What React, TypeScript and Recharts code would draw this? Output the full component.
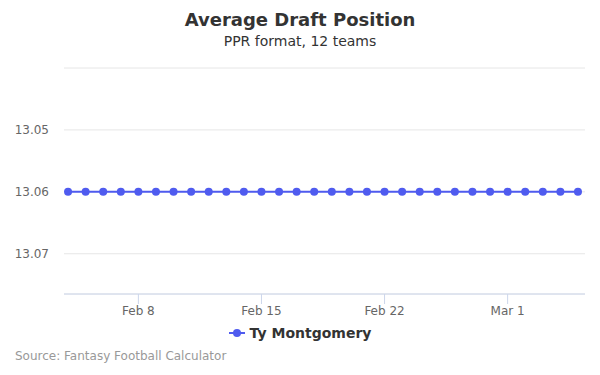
import { LineChart, Line, XAxis, YAxis, CartesianGrid, Legend } from "recharts";

const days = [
  "Feb 4", "Feb 5", "Feb 6", "Feb 7", "Feb 8", "Feb 9", "Feb 10", "Feb 11", "Feb 12", "Feb 13",
  "Feb 14", "Feb 15", "Feb 16", "Feb 17", "Feb 18", "Feb 19", "Feb 20", "Feb 21", "Feb 22", "Feb 23",
  "Feb 24", "Feb 25", "Feb 26", "Feb 27", "Feb 28", "Mar 1", "Mar 2", "Mar 3", "Mar 4", "Mar 5",
];
const adp = [
  13.06, 13.06, 13.06, 13.06, 13.06, 13.06, 13.06, 13.06, 13.06, 13.06,
  13.06, 13.06, 13.06, 13.06, 13.06, 13.06, 13.06, 13.06, 13.06, 13.06,
  13.06, 13.06, 13.06, 13.06, 13.06, 13.06, 13.06, 13.06, 13.06, 13.06,
];
const xTickLabels = ["Feb 8", "Feb 15", "Feb 22", "Mar 1"];
const yTicks = [13.04, 13.05, 13.06, 13.07];
const seriesName = "Ty Montgomery";

const data = days.map((d, i) => ({ x: i, label: d, adp: adp[i] }));
const xTicks = xTickLabels.map((l) => days.indexOf(l));

const FONT = "'DejaVu Sans', sans-serif";
const BLUE = "#4f5bef";

const LegendContent = () => (
  <div style={{ display: "flex", justifyContent: "center", alignItems: "center", fontFamily: FONT }}>
    <svg width={16} height={12} style={{ marginRight: 5 }}>
      <line x1={0} y1={6} x2={16} y2={6} stroke={BLUE} strokeWidth={2} />
      <circle cx={8} cy={6} r={4} fill={BLUE} />
    </svg>
    <span style={{ fontSize: 14, fontWeight: "bold", color: "#333" }}>{seriesName}</span>
  </div>
);

export default function App() {
  return (
    <div style={{ position: "absolute", left: 0, top: 0, width: 600, height: 375, fontFamily: FONT }}>
      <div style={{ position: "absolute", top: 9, width: 600, textAlign: "center", fontSize: 18, fontWeight: "bold", color: "#333" }}>
        Average Draft Position
      </div>
      <div style={{ position: "absolute", top: 33, width: 600, textAlign: "center", fontSize: 14, color: "#333" }}>
        PPR format, 12 teams
      </div>
      <LineChart width={600} height={375} data={data} margin={{ top: 68, right: 15, left: 0, bottom: 51 }}>
        <CartesianGrid horizontal vertical={false} stroke="#e6e6e6" />
        <XAxis
          dataKey="x"
          type="number"
          domain={[-0.23, 29.4]}
          ticks={xTicks}
          tickFormatter={(v) => days[v]}
          tickSize={10}
          stroke="#ccd6eb"
          tick={{ fill: "#666", fontSize: 12, fontFamily: FONT }}
          allowDataOverflow
        />
        <YAxis
          width={64}
          reversed
          domain={[13.04, 13.0765]}
          ticks={yTicks}
          allowDataOverflow
          axisLine={false}
          tickLine={false}
          tickMargin={9}
          tickFormatter={(v) => (v === 13.04 ? "" : v.toFixed(2))}
          tick={{ fill: "#666", fontSize: 12, fontFamily: FONT }}
        />
        <Legend
          verticalAlign="middle"
          align="center"
          content={<LegendContent />}
          wrapperStyle={{ position: "absolute", top: 325, left: 0, width: 600 }}
        />
        <Line
          type="linear"
          dataKey="adp"
          name={seriesName}
          stroke={BLUE}
          strokeWidth={2}
          dot={{ r: 4, fill: BLUE, stroke: BLUE, strokeWidth: 0 }}
          isAnimationActive={false}
        />
      </LineChart>
      <div style={{ position: "absolute", top: 349, left: 15, fontSize: 12, color: "#999" }}>
        Source: Fantasy Football Calculator
      </div>
    </div>
  );
}
